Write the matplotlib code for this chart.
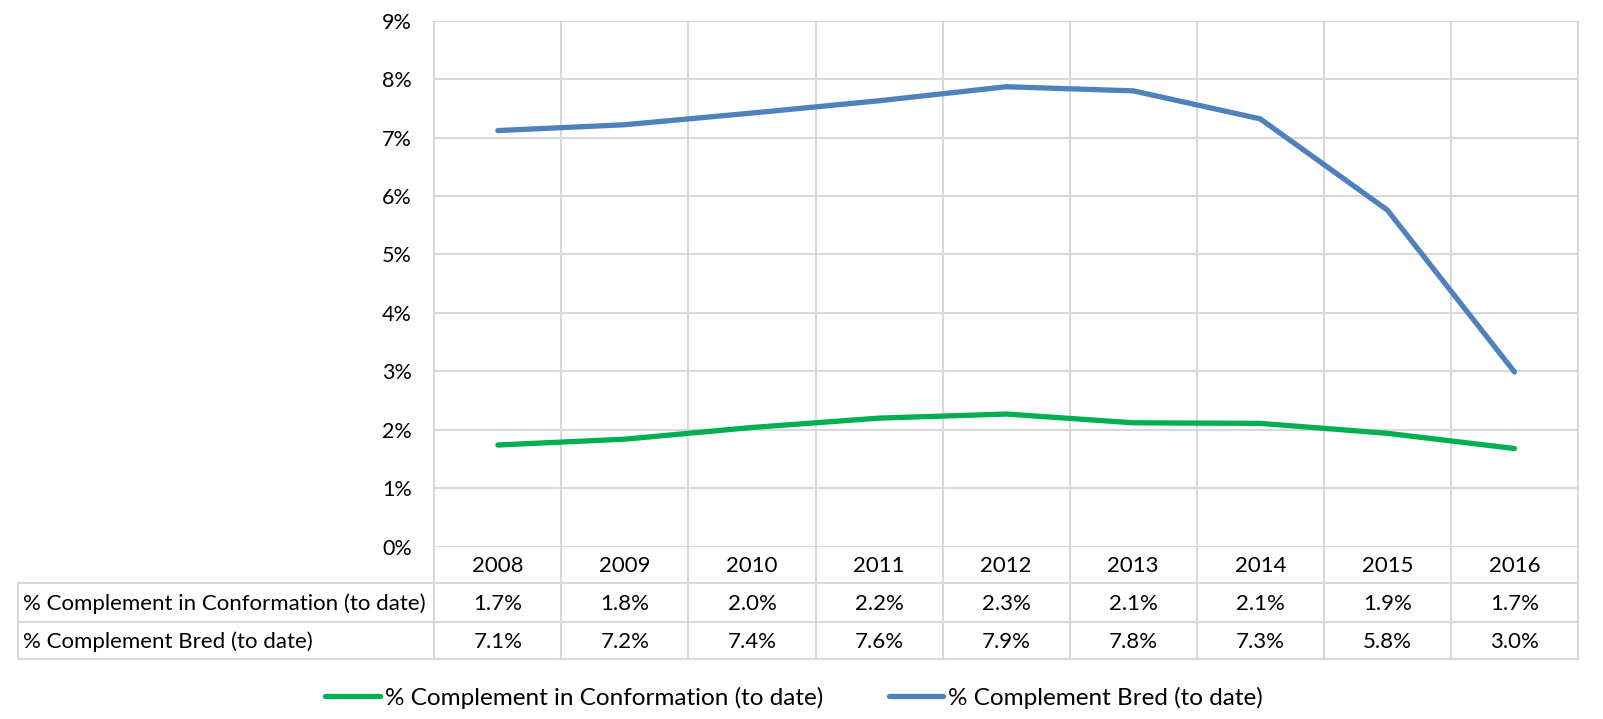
import matplotlib
matplotlib.use("Agg")
import matplotlib.pyplot as plt
from matplotlib.lines import Line2D
import numpy as np

years = ["2008", "2009", "2010", "2011", "2012", "2013", "2014", "2015", "2016"]
conformation = [1.74, 1.84, 2.04, 2.20, 2.27, 2.12, 2.11, 1.94, 1.68]
bred = [7.12, 7.22, 7.42, 7.63, 7.87, 7.80, 7.32, 5.76, 2.99]
series_names = ["% Complement in Conformation (to date)", "% Complement Bred (to date)"]
yticks = [0, 1, 2, 3, 4, 5, 6, 7, 8, 9]

green = "#00B050"
blue = "#4F81BD"
gridc = "#D9D9D9"
FONT = "Lato"
plt.rcParams['font.family'] = [FONT, 'DejaVu Sans']

W, H = 1603, 719
fig = plt.figure(figsize=(W / 100, H / 100), dpi=100)
left, right, top, bottom = 434.3, 1578.0, 20.7, 546.7
ax = fig.add_axes([left / W, 1 - bottom / H, (right - left) / W, (bottom - top) / H])

x = np.arange(len(years))
ax.plot(x, bred, color=blue, lw=3.8, solid_capstyle='round', zorder=3)
ax.plot(x, conformation, color=green, lw=3.8, solid_capstyle='round', zorder=3)

ax.set_xlim(-0.5, len(years) - 0.5)
ax.set_ylim(0, 9)
ax.set_yticks(yticks)
ax.set_yticklabels([f"{v}%" for v in yticks], fontsize=15.5)
ax.tick_params(axis='y', length=0, pad=16)
ax.set_xticks([])
ax.grid(False)
for s in ax.spines.values():
    s.set_visible(False)
for v in yticks:
    ax.axhline(v, color=gridc, lw=1.5, zorder=1)

axh = bottom - top
def fy(py):
    return (bottom - py) / axh

xt = ax.get_xaxis_transform()
tab_bottom = fy(659.3)
bounds = np.arange(len(years) + 1) - 0.5
ax.vlines(bounds, tab_bottom, 1, transform=xt, colors=gridc, lw=1.5, clip_on=False, zorder=1)
tleft = (17.7 - left) / (right - left)
for py in [583.3, 622.3, 659.3]:
    ax.plot([tleft, 1], [fy(py), fy(py)], transform=ax.transAxes, color=gridc, lw=1.5, clip_on=False, zorder=1)
ax.plot([tleft, tleft], [fy(583.3), fy(659.3)], transform=ax.transAxes, color=gridc, lw=1.5, clip_on=False)

FS = 16
for i, yr in enumerate(years):
    ax.text(i, fy(565.7), yr, transform=xt, ha='center', va='center', fontsize=FS)
    ax.text(i, fy(603.5), f"{conformation[i]:.1f}%", transform=xt, ha='center', va='center', fontsize=FS)
    ax.text(i, fy(641.5), f"{bred[i]:.1f}%", transform=xt, ha='center', va='center', fontsize=FS)
lab_x = (23.3 - left) / (right - left)
ax.text(lab_x, fy(603.5), series_names[0], transform=ax.transAxes, ha='left', va='center', fontsize=FS)
ax.text(lab_x, fy(641.5), series_names[1], transform=ax.transAxes, ha='left', va='center', fontsize=FS)

handles = [Line2D([], [], color=green, lw=3.8, solid_capstyle='round'),
           Line2D([], [], color=blue, lw=3.8, solid_capstyle='round')]
fig.legend(handles, series_names, loc='center', bbox_to_anchor=(794 / W, 1 - 697.7 / H),
           ncol=2, frameon=False, fontsize=17.5, handlelength=2.25, handletextpad=0.2,
           columnspacing=2.7)

fig.savefig("out.png", dpi=100)
